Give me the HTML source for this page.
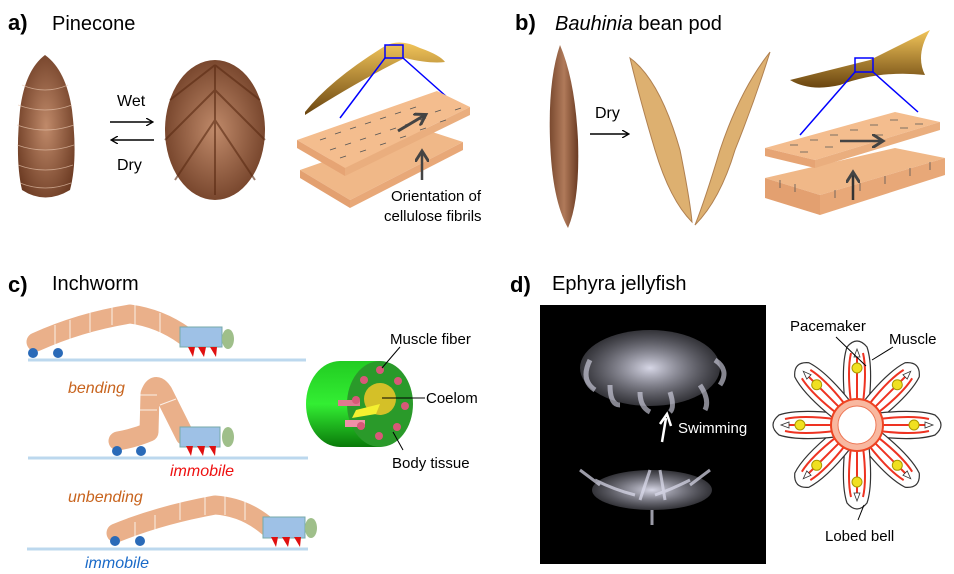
<!DOCTYPE html>
<html><head><meta charset="utf-8"><style>
body{margin:0;background:#fff;width:954px;height:574px;overflow:hidden}
svg{display:block}
text{font-family:"Liberation Sans","DejaVu Sans",sans-serif}
</style></head><body>
<svg width="954" height="574" viewBox="0 0 954 574" xmlns="http://www.w3.org/2000/svg">
<defs>
<radialGradient id="pc" cx="50%" cy="50%" r="60%"><stop offset="0" stop-color="#c08a6a"/><stop offset="1" stop-color="#6b3a22"/></radialGradient>
<linearGradient id="gold" x1="0" y1="0" x2="0" y2="1"><stop offset="0" stop-color="#f2c55a"/><stop offset="1" stop-color="#6a4510"/></linearGradient>
<linearGradient id="pod" x1="0" y1="0" x2="1" y2="0"><stop offset="0" stop-color="#7a4a30"/><stop offset=".5" stop-color="#b07a5a"/><stop offset="1" stop-color="#6a3a22"/></linearGradient>
<linearGradient id="cyl" x1="0" y1="0" x2="0" y2="1"><stop offset="0" stop-color="#22cc22"/><stop offset=".5" stop-color="#33ee33"/><stop offset="1" stop-color="#0a7a0a"/></linearGradient>
<radialGradient id="jf" cx="50%" cy="50%" r="50%"><stop offset="0" stop-color="#eef" stop-opacity=".9"/><stop offset="1" stop-color="#aab" stop-opacity=".3"/></radialGradient>
<marker id="ah" markerWidth="8" markerHeight="8" refX="6" refY="4" orient="auto" markerUnits="userSpaceOnUse"><path d="M0,0 L7,4 L0,8" fill="none" stroke="#000" stroke-width="1.3"/></marker>
<marker id="ah2" markerWidth="14" markerHeight="14" refX="10" refY="7" orient="auto" markerUnits="userSpaceOnUse"><path d="M0,0 L11,7 L0,14" fill="none" stroke="#444" stroke-width="3"/></marker>
</defs>

<!-- a) -->
<text x="8" y="30" font-size="22" font-weight="bold">a)</text>
<text x="52" y="30" font-size="20">Pinecone</text>
<path d="M45,55 Q25,70 20,110 Q15,160 22,190 Q45,205 70,190 Q78,160 72,110 Q66,70 45,55 Z" fill="url(#pc)"/>
<g stroke="#e8c8b0" stroke-width="0.8" fill="none" opacity=".7">
<path d="M22,85 Q45,95 68,85 M18,105 Q45,115 72,105 M17,125 Q45,135 74,125 M17,145 Q45,155 74,145 M18,165 Q45,175 73,165 M20,183 Q45,193 71,183"/>
</g>
<text x="117" y="106" font-size="16">Wet</text>
<line x1="110" y1="122" x2="152" y2="122" stroke="#000" stroke-width="1.5" marker-end="url(#ah)"/>
<line x1="154" y1="140" x2="112" y2="140" stroke="#000" stroke-width="1.5" marker-end="url(#ah)"/>
<text x="117" y="170" font-size="16">Dry</text>
<ellipse cx="215" cy="130" rx="50" ry="70" fill="url(#pc)"/>
<g stroke="#5a2a12" stroke-width="2" opacity=".6"><path d="M215,65 L170,100 M215,65 L260,100 M215,90 L165,140 M215,90 L265,140 M215,120 L175,180 M215,120 L255,180 M215,65 L215,195"/></g>
<path d="M305,112 Q330,80 385,46 Q400,38 420,48 Q440,55 445,62 Q430,64 405,58 Q360,80 305,115 Z" fill="url(#gold)"/>
<rect x="385" y="45" width="18" height="13" fill="none" stroke="#00f" stroke-width="1.5"/>
<line x1="385" y1="58" x2="340" y2="118" stroke="#00f" stroke-width="1.5"/>
<line x1="403" y1="58" x2="448" y2="98" stroke="#00f" stroke-width="1.5"/>
<polygon points="300,170 420,128 463,142 350,200" fill="#f0b888"/>
<polygon points="300,170 350,200 350,208 300,178" fill="#e3a070"/>
<polygon points="350,200 463,142 463,150 350,208" fill="#e8a878"/>
<polygon points="297,140 437,91 470,107 345,168" fill="#f4bd8e"/>
<polygon points="297,140 345,168 345,176 297,148" fill="#e6a474"/>
<polygon points="345,168 470,107 470,115 345,176" fill="#eaae7e"/>
<g stroke="#555" stroke-width="0.8"><path d="M320,140 l6,-2 M335,134 l6,-2 M350,129 l6,-2 M365,124 l6,-2 M380,119 l6,-2 M395,114 l6,-2 M410,109 l6,-2 M330,150 l6,-2 M345,145 l6,-2 M360,140 l6,-2 M375,135 l6,-2 M390,130 l6,-2 M405,125 l6,-2 M420,120 l6,-2 M435,112 l6,-2 M340,158 l6,-2 M360,152 l6,-2 M380,145 l6,-2 M400,138 l6,-2 M420,130 l6,-2 M440,122 l6,-2 M455,110 l6,-2"/></g>
<line x1="398" y1="131" x2="425" y2="115" stroke="#444" stroke-width="3" marker-end="url(#ah2)"/>
<line x1="422" y1="180" x2="422" y2="152" stroke="#444" stroke-width="2.5" marker-end="url(#ah2)"/>
<text x="391" y="201" font-size="15">Orientation of</text>
<text x="384" y="221" font-size="15">cellulose fibrils</text>

<!-- b) -->
<text x="515" y="30" font-size="22" font-weight="bold">b)</text>
<text x="555" y="30" font-size="20"><tspan font-style="italic">Bauhinia</tspan> bean pod</text>
<path d="M560,45 Q548,80 550,140 Q552,200 568,228 Q580,200 578,140 Q575,80 560,45 Z" fill="url(#pod)"/>
<text x="595" y="118" font-size="16">Dry</text>
<line x1="590" y1="134" x2="628" y2="134" stroke="#000" stroke-width="1.5" marker-end="url(#ah)"/>
<path d="M630,58 Q660,80 680,150 Q690,200 692,222 Q670,200 655,150 Q640,100 630,58 Z" fill="#ddb070" stroke="#b08050"/>
<path d="M770,52 Q740,90 720,150 Q705,200 695,225 Q720,200 735,150 Q755,100 770,52 Z" fill="#ddb070" stroke="#b08050"/>
<path d="M790,80 Q830,70 870,60 Q900,45 930,30 Q915,55 925,75 Q880,70 840,85 Q810,92 790,80 Z" fill="url(#gold)"/>
<rect x="855" y="58" width="18" height="14" fill="none" stroke="#00f" stroke-width="1.5"/>
<line x1="855" y1="72" x2="800" y2="135" stroke="#00f" stroke-width="1.5"/>
<line x1="873" y1="72" x2="918" y2="112" stroke="#00f" stroke-width="1.5"/>
<polygon points="765,178 895,148 945,158 820,195" fill="#f0b888"/>
<polygon points="765,178 820,195 820,215 765,198" fill="#e3a070"/>
<polygon points="820,195 945,158 945,175 820,215" fill="#e8a878"/>
<polygon points="765,148 895,112 940,122 815,160" fill="#f4bd8e"/>
<polygon points="765,148 815,160 815,168 765,156" fill="#e6a474"/>
<polygon points="815,160 940,122 940,130 815,168" fill="#eaae7e"/>
<g stroke="#555" stroke-width="0.8"><path d="M790,145 h8 M810,140 h8 M830,135 h8 M850,130 h8 M870,125 h8 M890,120 h8 M800,152 h8 M825,147 h8 M850,141 h8 M875,135 h8 M900,128 h8 M915,124 h8 M780,180 v8 M795,184 v8 M835,190 v8 M860,183 v8 M885,176 v8 M910,168 v8 M930,162 v8"/></g>
<line x1="840" y1="141" x2="882" y2="141" stroke="#444" stroke-width="2.5" marker-end="url(#ah2)"/>
<line x1="853" y1="200" x2="853" y2="173" stroke="#333" stroke-width="2.5" marker-end="url(#ah2)"/>

<!-- c) -->
<text x="8" y="292" font-size="22" font-weight="bold">c)</text>
<text x="52" y="290" font-size="20">Inchworm</text>
<g stroke="#bcd8ee" stroke-width="3"><line x1="28" y1="360" x2="306" y2="360"/><line x1="28" y1="458" x2="308" y2="458"/><line x1="27" y1="549" x2="308" y2="549"/></g>
<g fill="none" stroke="#eab08a" stroke-width="19" stroke-linecap="round" stroke-linejoin="round">
<path d="M36,342 Q80,322 130,314 Q160,318 185,336"/>
<path d="M118,441 Q135,438 149,432 L150,394 Q155,380 163,392 Q172,410 185,436"/>
<path d="M116,533 Q160,515 215,505 Q245,507 268,527"/>
</g>
<g stroke="#fff" stroke-width="1" opacity=".8"><path d="M55,325 v20 M70,320 v20 M90,312 v20 M112,305 v20 M135,305 v20 M160,313 v20 M135,410 h22 M135,395 h22 M160,405 l16,-6 M135,542 v-20 M155,535 v-20 M180,520 v-20 M205,515 v-20 M225,515 v-20 M245,520 v-20"/></g>
<rect x="180" y="327" width="42" height="20" fill="#9ec1e6" stroke="#7aa"/>
<ellipse cx="228" cy="339" rx="6" ry="10" fill="#9fbf8a"/>
<circle cx="33" cy="353" r="5" fill="#2a6ab8"/><circle cx="58" cy="353" r="5" fill="#2a6ab8"/>
<path d="M188,347 l5,10 l2,-10 Z M198,347 l6,10 l2,-10 Z M210,347 l6,10 l1,-10 Z" fill="#e01010"/>
<text x="68" y="393" font-size="16" font-style="italic" fill="#c8641e">bending</text>
<rect x="180" y="427" width="40" height="20" fill="#9ec1e6" stroke="#7aa"/>
<ellipse cx="228" cy="437" rx="6" ry="10" fill="#9fbf8a"/>
<circle cx="117" cy="451" r="5" fill="#2a6ab8"/><circle cx="141" cy="451" r="5" fill="#2a6ab8"/>
<path d="M186,446 l5,10 l2,-10 Z M197,446 l6,10 l2,-10 Z M209,446 l6,10 l1,-10 Z" fill="#e01010"/>
<text x="170" y="476" font-size="16" font-style="italic" fill="#ee1111">immobile</text>
<text x="68" y="502" font-size="16" font-style="italic" fill="#c8641e">unbending</text>
<rect x="263" y="517" width="42" height="21" fill="#9ec1e6" stroke="#7aa"/>
<ellipse cx="311" cy="528" rx="6" ry="10" fill="#9fbf8a"/>
<circle cx="115" cy="541" r="5" fill="#2a6ab8"/><circle cx="140" cy="541" r="5" fill="#2a6ab8"/>
<path d="M271,537 l5,10 l2,-10 Z M282,537 l6,10 l2,-10 Z M294,537 l6,10 l1,-10 Z" fill="#e01010"/>
<text x="85" y="568" font-size="16" font-style="italic" fill="#1a6ac8">immobile</text>
<!-- cylinder -->
<path d="M340,361 L380,361 L380,447 L340,447 A34,43 0 0 1 340,361 Z" fill="url(#cyl)"/>
<ellipse cx="380" cy="404" rx="33" ry="43" fill="#2a9a2a"/>
<circle cx="380" cy="399" r="16" fill="#d4c028"/>
<polygon points="356,410 380,404 376,414 352,418" fill="#f4f030"/>
<rect x="338" y="400" width="22" height="6" fill="#e07890"/>
<rect x="345" y="420" width="20" height="7" fill="#f090a8"/>
<g fill="#d85878"><circle cx="380" cy="370" r="4"/><circle cx="398" cy="381" r="4"/><circle cx="405" cy="406" r="4"/><circle cx="397" cy="427" r="4"/><circle cx="379" cy="436" r="4"/><circle cx="361" cy="426" r="4"/><circle cx="356" cy="400" r="4"/><circle cx="364" cy="380" r="4"/></g>
<text x="390" y="344" font-size="15">Muscle fiber</text>
<line x1="382" y1="368" x2="400" y2="347" stroke="#000"/>
<line x1="382" y1="398" x2="425" y2="398" stroke="#000"/>
<text x="426" y="403" font-size="15">Coelom</text>
<line x1="393" y1="432" x2="403" y2="450" stroke="#000"/>
<text x="392" y="468" font-size="15">Body tissue</text>

<!-- d) -->
<text x="510" y="292" font-size="22" font-weight="bold">d)</text>
<text x="552" y="290" font-size="20">Ephyra jellyfish</text>
<rect x="540" y="305" width="226" height="259" fill="#000"/>
<ellipse cx="650" cy="368" rx="70" ry="38" fill="url(#jf)"/>
<g stroke="#dde" stroke-width="5" fill="none" opacity=".6"><path d="M590,360 q-10,20 5,30 M610,385 q0,20 10,20 M640,392 q0,15 10,20 M670,392 q5,15 0,20 M700,385 q10,15 5,25 M715,360 q15,10 5,25"/></g>
<ellipse cx="652" cy="490" rx="60" ry="20" fill="url(#jf)"/>
<g stroke="#dde" stroke-width="3" fill="none" opacity=".7"><path d="M595,480 q20,10 40,15 M580,470 l20,15 M710,470 l-20,15 M690,480 q-20,10 -35,15 M640,500 l10,-30 M665,500 l-5,-30 M652,510 l0,15"/></g>
<line x1="662" y1="442" x2="666" y2="418" stroke="#fff" stroke-width="2.5"/>
<path d="M660,424 L667,414 L671,426" fill="none" stroke="#fff" stroke-width="2.5"/>
<text x="678" y="433" font-size="15" fill="#fff">Swimming</text>
<g transform="translate(857,425)">
<g id="lobe">
<path d="M-12,-22 Q-16,-60 -10,-78 Q0,-90 10,-78 Q16,-60 12,-22 Z" fill="#fff" stroke="#333" stroke-width="1.2"/>
<path d="M-6,-22 Q-10,-55 -6,-72 M6,-22 Q10,-55 6,-72 M0,-22 L0,-70" stroke="#ee3322" stroke-width="2" fill="none"/>
<path d="M-3,-68 L0,-76 L3,-68 Z" fill="#fff" stroke="#333" stroke-width=".8"/>
<circle cx="0" cy="-57" r="5" fill="#f0e020" stroke="#aa9900"/>
</g>
<use href="#lobe" transform="rotate(45)"/><use href="#lobe" transform="rotate(90)"/><use href="#lobe" transform="rotate(135)"/>
<use href="#lobe" transform="rotate(180)"/><use href="#lobe" transform="rotate(225)"/><use href="#lobe" transform="rotate(270)"/><use href="#lobe" transform="rotate(315)"/>
<circle r="26" fill="#f8b8a0" stroke="#ee4422" stroke-width="2"/>
<circle r="19" fill="#fff" stroke="#ee7755"/>
</g>
<text x="790" y="331" font-size="15">Pacemaker</text>
<line x1="836" y1="337" x2="866" y2="366" stroke="#000"/>
<text x="889" y="344" font-size="15">Muscle</text>
<line x1="893" y1="347" x2="872" y2="360" stroke="#000"/>
<line x1="864" y1="505" x2="858" y2="520" stroke="#000"/>
<text x="825" y="541" font-size="15">Lobed bell</text>
</svg>
</body></html>
